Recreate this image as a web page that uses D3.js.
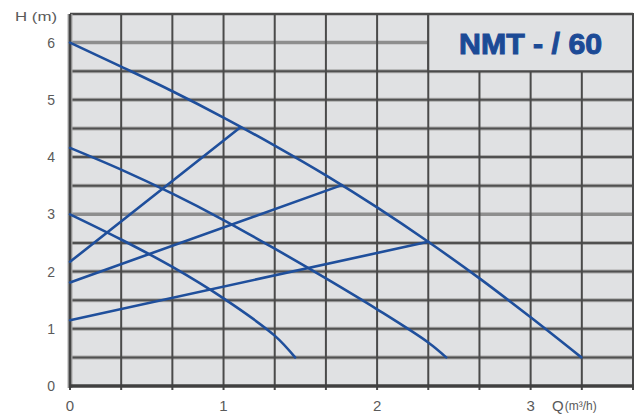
<!DOCTYPE html>
<html>
<head>
<meta charset="utf-8">
<script src="https://cdn.jsdelivr.net/npm/d3@7/dist/d3.min.js"></script>
<style>
  html, body { margin: 0; padding: 0; background: #ffffff; }
  svg { display: block; }
</style>
</head>
<body>
<svg id="chart" width="637" height="417"></svg>
<script>
// ---- data ----
const title = "NMT - / 60";
const yAxisTitle = "H (m)";
const xAxisTitleMain = "Q";
const xAxisTitleUnit = "(m³/h)";
const qTicks = [0, 1, 2, 3];
const hTicks = [0, 1, 2, 3, 4, 5, 6];

// pump curves, [Q (m3/h), H (m)]
const curveSpeed3 = [[0, 6.0], [0.333, 5.58], [0.667, 5.15], [1, 4.69], [1.333, 4.20], [1.667, 3.68], [2, 3.12], [2.333, 2.52], [2.667, 1.88], [3, 1.20], [3.33, 0.50]];
const curveSpeed2 = [[0, 4.16], [0.333, 3.78], [0.667, 3.36], [1, 2.90], [1.333, 2.40], [1.667, 1.88], [2, 1.34], [2.333, 0.76], [2.45, 0.50]];
const curveSpeed1 = [[0, 3.0], [0.333, 2.56], [0.667, 2.08], [1, 1.53], [1.333, 0.88], [1.466, 0.50]];

// straight regulation lines, [Q, H]
const lineA = [[0, 2.17], [1.11, 4.52]];
const lineB = [[0, 1.81], [1.77, 3.51]];
const lineC = [[0, 1.15], [2.333, 2.52]];

// ---- chart ----
const svg = d3.select("#chart");
const x = d3.scaleLinear().domain([0, 11 / 3]).range([70, 633]);
const y = d3.scaleLinear().domain([0, 6.5]).range([386, 14]);

const xGrid = d3.range(0, 12).map(i => i / 3);
const yGrid = d3.range(0, 14).map(i => i / 2);

// plot background
svg.append("rect")
  .attr("x", x(0)).attr("y", y(6.5))
  .attr("width", x(11 / 3) - x(0)).attr("height", y(0) - y(6.5))
  .attr("fill", "#e0e1e3");

const grid = svg.append("g");
// horizontal lines (halo + line)
yGrid.forEach(h => {
  if (h === 0 || h === 6.5) return;
  const light = (h === 6 || h === 3);
  grid.append("line")
    .attr("x1", x(0)).attr("x2", x(11 / 3))
    .attr("y1", y(h)).attr("y2", y(h))
    .attr("stroke", light ? "#8e8e8e" : "#aaaaaa").attr("stroke-width", light ? 3.5 : 4);
  if (!light) {
    grid.append("line")
      .attr("x1", x(0)).attr("x2", x(11 / 3))
      .attr("y1", y(h)).attr("y2", y(h))
      .attr("stroke", "#505050").attr("stroke-width", 2);
  }
});
// vertical lines
xGrid.forEach(q => {
  grid.append("line")
    .attr("x1", x(q)).attr("x2", x(q))
    .attr("y1", y(6.5)).attr("y2", y(0) + 4)
    .attr("stroke", "#4a4a4a").attr("stroke-width", 2);
});

// title box (covers grid)
const bx0 = x(7 / 3), bx1 = x(11 / 3), by0 = y(6.5), by1 = y(5.5);
svg.append("rect")
  .attr("x", bx0).attr("y", by0)
  .attr("width", bx1 - bx0).attr("height", by1 - by0)
  .attr("fill", "#e0e1e3")
  .attr("stroke", "#4a4a4a").attr("stroke-width", 2);

// frame
svg.append("line").attr("x1", x(0)).attr("x2", x(11 / 3)).attr("y1", y(6.5)).attr("y2", y(6.5))
  .attr("stroke", "#4a4a4a").attr("stroke-width", 2.5);
svg.append("line").attr("x1", x(11 / 3)).attr("x2", x(11 / 3)).attr("y1", y(6.5)).attr("y2", y(0) + 4)
  .attr("stroke", "#4a4a4a").attr("stroke-width", 2);
svg.append("line").attr("x1", x(0)).attr("x2", x(0)).attr("y1", y(6.5)).attr("y2", y(0) + 2)
  .attr("stroke", "#a9a9a9").attr("stroke-width", 5);
svg.append("line").attr("x1", x(0)).attr("x2", x(0)).attr("y1", y(6.5)).attr("y2", y(0) + 2)
  .attr("stroke", "#444").attr("stroke-width", 2.5);
svg.append("line").attr("x1", x(0) - 1).attr("x2", x(11 / 3) + 1).attr("y1", y(0)).attr("y2", y(0))
  .attr("stroke", "#404040").attr("stroke-width", 3.5);

// title
svg.append("text")
  .attr("x", (bx0 + bx1) / 2).attr("y", 54)
  .attr("text-anchor", "middle")
  .attr("font-family", "Liberation Sans, Arial, sans-serif")
  .attr("font-weight", "bold")
  .attr("font-size", 29)
  .attr("textLength", 143).attr("lengthAdjust", "spacingAndGlyphs")
  .attr("fill", "#1c4a96")
  .attr("stroke", "#1c4a96").attr("stroke-width", 1)
  .text(title);

// axis labels
const labelFont = "Liberation Sans, Arial, sans-serif";
svg.append("g").selectAll("text").data(hTicks).join("text")
  .attr("x", 55).attr("y", d => y(d) + 5)
  .attr("text-anchor", "end")
  .attr("font-family", labelFont).attr("font-size", 14)
  .attr("fill", "#5a5a5a")
  .text(d => d);
svg.append("g").selectAll("text").data(qTicks).join("text")
  .attr("x", d => x(d)).attr("y", 411)
  .attr("text-anchor", "middle")
  .attr("font-family", labelFont).attr("font-size", 15)
  .attr("fill", "#5a5a5a")
  .text(d => d);
svg.append("text")
  .attr("x", 15).attr("y", 21)
  .attr("font-family", labelFont).attr("font-size", 13)
  .attr("textLength", 42).attr("lengthAdjust", "spacingAndGlyphs")
  .attr("fill", "#5a5a5a")
  .text(yAxisTitle);
const xt = svg.append("text")
  .attr("x", 552).attr("y", 411)
  .attr("font-family", labelFont)
  .attr("fill", "#5a5a5a");
xt.append("tspan").attr("font-size", 15).text(xAxisTitleMain);
xt.append("tspan").attr("font-size", 12).attr("dx", 1).attr("dy", -1).text(xAxisTitleUnit);

// curves
const blue = "#1f4f9c";
const curveGen = d3.line().x(d => x(d[0])).y(d => y(d[1])).curve(d3.curveCatmullRom.alpha(0.5));
const straight = d3.line().x(d => x(d[0])).y(d => y(d[1]));
const marks = svg.append("g").attr("fill", "none").attr("stroke", blue).attr("stroke-width", 2.6)
  .attr("stroke-linecap", "round");
[lineA, lineB, lineC].forEach(s => marks.append("path").attr("d", straight(s)));
[curveSpeed3, curveSpeed2, curveSpeed1].forEach(s => marks.append("path").attr("d", curveGen(s)));
</script>
</body>
</html>
